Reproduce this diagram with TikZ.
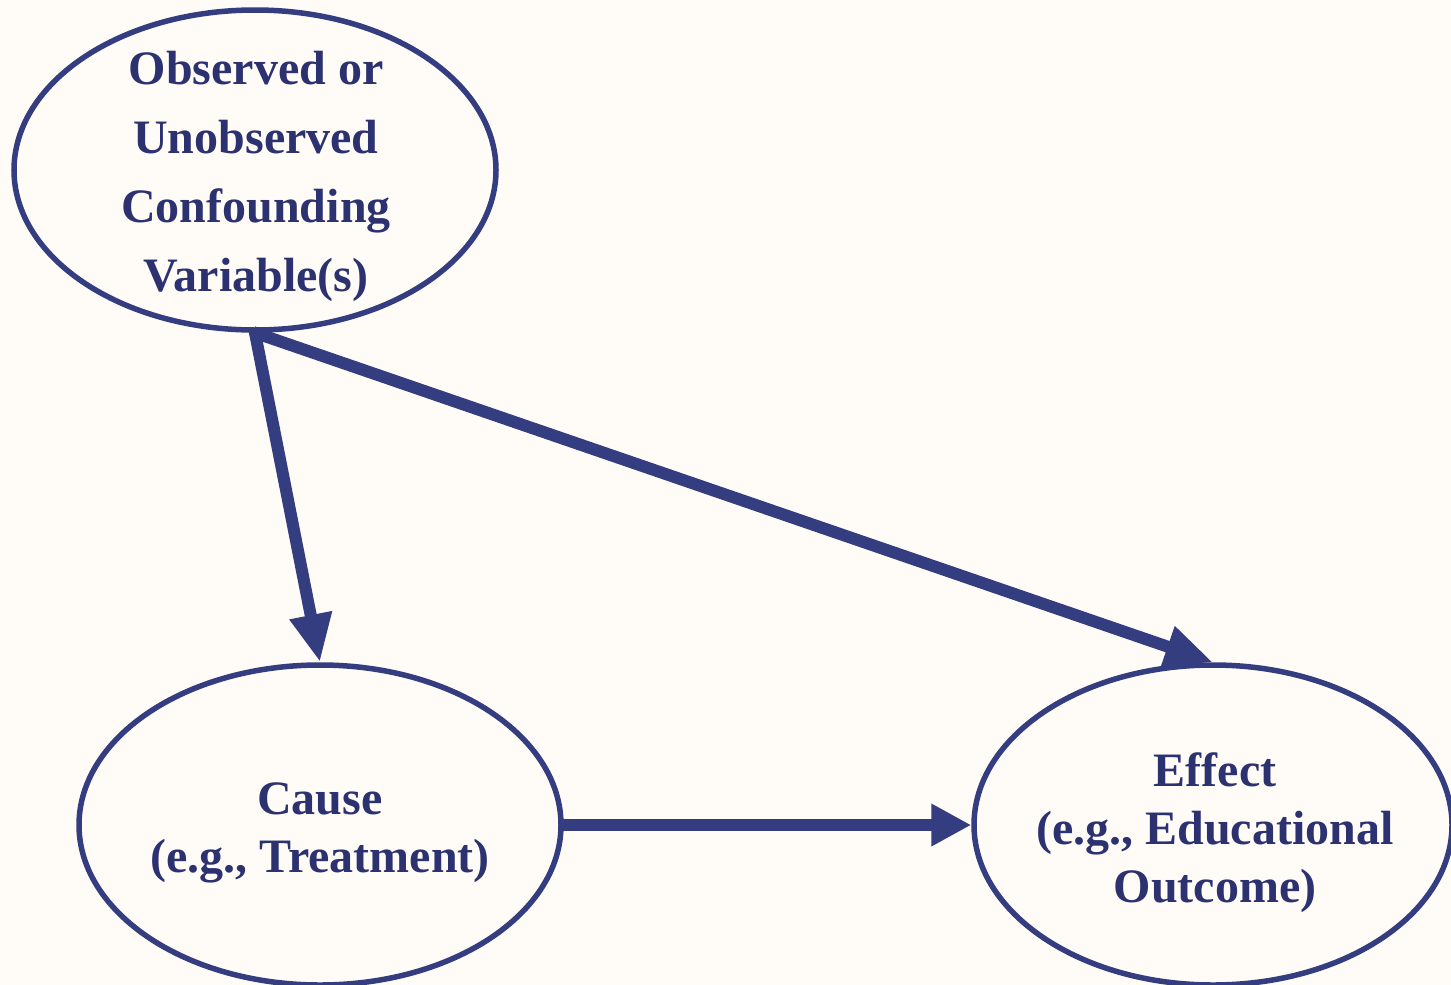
\documentclass[tikz,border=0pt]{standalone}
\usepackage{fontspec}
\setmainfont{Liberation Serif}
\usetikzlibrary{shapes.geometric,arrows.meta}
\definecolor{navy}{HTML}{343D80}
\definecolor{navytext}{HTML}{2C3270}
\definecolor{bg}{HTML}{FFFCF8}
\begin{document}
\begin{tikzpicture}[x=1pt,y=-1pt,
  oval/.style={ellipse,draw=navy,line width=5.5pt,minimum width=482pt,minimum height=320pt,inner sep=0pt},
  label/.style={align=center,text=navytext,inner sep=0pt,font=\fontsize{48}{58}\selectfont\bfseries},
  conn/.style={draw=navy,line width=12pt,-{Triangle[length=48pt,width=40pt]},shorten <=-2pt}]
\fill[bg] (0,0) rectangle (1451,985);
\useasboundingbox (0,0) rectangle (1451,985);
\clip (0,0) rectangle (1451,985);
\node[oval] (conf) at (255,170) {};
\node[oval] (cause) at (320,825) {};
\node[oval,minimum width=478pt] (eff) at (1213,825) {};
\node[label,font=\fontsize{48}{69}\selectfont\bfseries] (conft) at (256,176) {Observed or\\Unobserved\\Confounding\\Variable(s)};
\node[label] (causet) at (320,833) {Cause\\(e.g., Treatment)};
\node[label] (efft) at (1215,833) {Effect\\(e.g., Educational\\Outcome)};
\draw[conn] (conf.south) -- (cause.north);
\draw[conn] (conf.south) -- (eff.north);
\draw[conn,-{Triangle[length=40pt,width=40pt]}] (cause.east) -- (eff.west);
\end{tikzpicture}
\end{document}
